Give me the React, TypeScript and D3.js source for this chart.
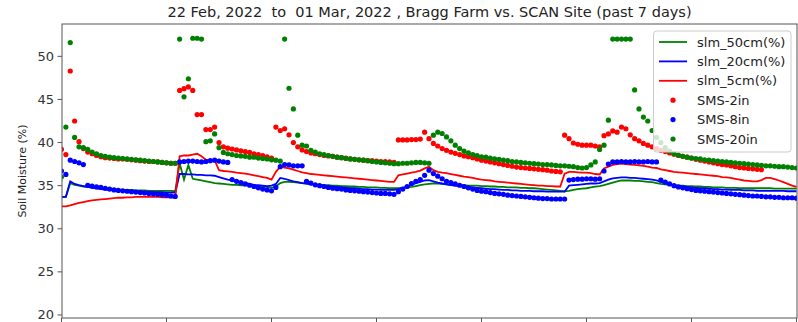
import * as d3 from "d3";

// hourly readings, index = hours since 22 Feb 00:00
const hourTicks = [0, 24, 48, 72, 96, 120, 144, 168];
const yTicks = [20, 25, 30, 35, 40, 45, 50];

// SCAN site lines
const slm50 = [
  33.7, 33.7, 35.3, 35.1, 35.0, 34.9, 34.85, 34.8, 34.75, 34.7, 34.65, 34.6,
  34.55, 34.55, 34.5, 34.5, 34.5, 34.45, 34.45, 34.45, 34.4, 34.4, 34.4, 34.4,
  34.4, 34.4, 34.35, 37.6, 35.7, 37.4, 35.8, 35.7, 35.6, 35.5, 35.4, 35.3,
  35.25, 35.2, 35.15, 35.1, 35.1, 35.05, 35.05, 35.0, 35.0, 34.95, 34.9, 34.85,
  34.75, 34.9, 35.3, 35.45, 35.45, 35.4, 35.35, 35.3, 35.25, 35.2, 35.15, 35.1,
  35.05, 35.05, 35.0, 35.0, 34.95, 34.95, 34.9, 34.9, 34.85, 34.85, 34.8, 34.8,
  34.8, 34.75, 34.75, 34.7, 34.7, 34.7, 34.75, 34.8, 34.85, 34.95, 35.05, 35.15,
  35.2, 35.25, 35.25, 35.2, 35.15, 35.1, 35.1, 35.05, 35.05, 35.0, 35.0, 35.0,
  34.95, 34.95, 34.9, 34.9, 34.85, 34.85, 34.8, 34.8, 34.8, 34.75, 34.75, 34.7,
  34.7, 34.65, 34.6, 34.55, 34.5, 34.45, 34.4, 34.35, 34.4, 34.5, 34.6, 34.65,
  34.7, 34.8, 34.9, 34.95, 35.05, 35.2, 35.35, 35.5, 35.6, 35.6, 35.6, 35.55,
  35.55, 35.5, 35.45, 35.4, 35.3, 35.2, 35.15, 35.1, 35.05, 35.0, 35.0, 34.95,
  34.95, 34.9, 34.9, 34.85, 34.85, 34.8, 34.8, 34.8, 34.75, 34.75, 34.75, 34.7,
  34.7, 34.7, 34.7, 34.7, 34.7, 34.7, 34.7, 34.65, 34.65, 34.65, 34.65, 34.65,
  34.65,
];
const slm20 = [
  33.7, 33.7, 35.5, 35.2, 35.05, 34.95, 34.85, 34.75, 34.7, 34.6, 34.55, 34.5,
  34.45, 34.45, 34.4, 34.4, 34.35, 34.35, 34.3, 34.3, 34.3, 34.25, 34.25, 34.25,
  34.2, 34.2, 34.2, 36.35, 36.35, 36.3, 36.3, 36.25, 36.25, 36.2, 36.2, 36.15,
  36.0, 35.85, 35.7, 35.6, 35.5, 35.4, 35.3, 35.2, 35.1, 35.05, 35.0, 34.95,
  35.0, 35.2, 35.9, 35.8, 35.65, 35.5, 35.4, 35.3, 35.25, 35.15, 35.1, 35.05,
  35.0, 34.95, 34.9, 34.85, 34.8, 34.75, 34.7, 34.7, 34.65, 34.6, 34.6, 34.55,
  34.55, 34.5, 34.5, 34.5, 34.5, 34.6, 34.75, 34.9, 35.1, 35.3, 35.45, 35.6,
  35.65, 35.5, 35.35, 35.25, 35.15, 35.05, 35.0, 34.95, 34.9, 34.85, 34.8, 34.75,
  34.7, 34.65, 34.6, 34.6, 34.55, 34.5, 34.5, 34.45, 34.45, 34.4, 34.4, 34.4,
  34.35, 34.35, 34.35, 34.3, 34.3, 34.3, 34.3, 34.3, 35.0, 35.05, 35.1, 35.15,
  35.2, 35.25, 35.25, 35.3, 35.5, 35.7, 35.85, 35.9, 35.95, 35.95, 35.9, 35.9,
  35.85, 35.8, 35.75, 35.7, 35.6, 35.45, 35.3, 35.15, 35.05, 34.95, 34.9, 34.85,
  34.8, 34.75, 34.7, 34.7, 34.65, 34.6, 34.6, 34.55, 34.55, 34.5, 34.5, 34.5,
  34.45, 34.45, 34.45, 34.4, 34.4, 34.4, 34.4, 34.4, 34.4, 34.4, 34.35, 34.35,
  34.35,
];
const slm5 = [
  32.6, 32.6, 32.7, 32.85, 33.0, 33.1, 33.2, 33.3, 33.35, 33.4, 33.45, 33.5,
  33.55, 33.6, 33.6, 33.65, 33.65, 33.7, 33.7, 33.7, 33.7, 33.7, 33.7, 33.65,
  33.65, 33.65, 33.6, 38.4, 38.5, 38.5, 38.6, 38.7, 38.4, 38.0, 38.0, 37.95,
  36.8, 36.7, 36.65, 36.6, 36.5, 36.45, 36.4, 36.3, 36.2, 36.1, 36.0, 35.9,
  35.7, 36.6, 37.2, 37.1, 37.0, 36.85, 36.7, 36.55, 36.45, 36.35, 36.3, 36.25,
  36.2, 36.15, 36.1, 36.05, 36.0, 35.95, 35.9, 35.85, 35.8, 35.75, 35.7, 35.65,
  35.6, 35.55, 35.5, 35.45, 35.45, 36.2, 36.3, 36.4, 36.5, 36.6, 36.75, 37.0,
  37.2, 36.8, 36.6, 36.5, 36.45, 36.35, 36.25, 36.15, 36.05, 36.0, 35.9, 35.8,
  35.7, 35.65, 35.6, 35.5, 35.45, 35.4, 35.35, 35.3, 35.25, 35.2, 35.15, 35.1,
  35.05, 35.0, 35.0, 34.95, 34.95, 34.9, 34.9, 36.4, 36.6, 36.6, 36.55, 36.5,
  36.5, 36.45, 36.35, 36.3, 37.0, 37.2, 37.4, 37.5, 37.55, 37.5, 37.45, 37.4,
  37.35, 37.3, 37.2, 37.1, 37.05, 36.9, 36.8, 36.7, 36.6, 36.55, 36.5, 36.45,
  36.4, 36.35, 36.3, 36.25, 36.2, 36.15, 36.1, 36.0, 35.95, 35.9, 35.8, 35.7,
  35.6, 35.55, 35.5, 35.5, 35.65, 35.9, 35.9, 35.75, 35.6, 35.4, 35.2, 35.0,
  34.85,
];

// Bragg Farm sensors
const sms2 = [
  39.2, 38.6, 48.3, 42.5, 40.1, 39.3, 38.9, 38.7, 38.5, 38.35, 38.25, 38.2,
  38.15, 38.1, 38.1, 38.05, 38.0, 37.95, 37.9, 37.85, 37.8, 37.8, 37.75, 37.7,
  37.65, 37.6, 37.6, 46.05, 46.25, 46.45, 46.05, 43.25, 43.25, 41.5, 41.5, 41.8,
  40.0, 39.5, 39.35, 39.25, 39.15, 39.05, 38.95, 38.85, 38.7, 38.6, 38.5, 38.35,
  38.2, 41.8, 41.4, 41.6, 40.9, 40.0, 39.5, 39.15, 38.95, 38.8, 38.7, 38.6,
  38.5, 38.45, 38.4, 38.3, 38.25, 38.2, 38.1, 38.05, 38.0, 37.95, 37.9, 37.9,
  37.85, 37.8, 37.8, 37.75, 37.7, 40.3, 40.3, 40.3, 40.35, 40.35, 40.4, 41.2,
  40.45, 39.9, 39.6, 39.3, 39.1, 38.9, 38.75, 38.6, 38.45, 38.35, 38.25, 38.1,
  37.95, 37.85, 37.75, 37.65, 37.55, 37.45, 37.35, 37.25, 37.15, 37.1, 37.05, 37.0,
  36.95, 36.9, 36.85, 36.8, 36.7, 36.65, 36.6, 40.85, 40.45, 39.95, 39.8, 39.7,
  39.7, 39.7, 39.6, 39.5, 40.8, 41.0, 41.35, 41.2, 41.8, 41.6, 40.9, 40.45,
  40.2, 39.9, 39.7, 39.5, 39.3, 39.1, 38.95, 38.8, 38.65, 38.5, 38.4, 38.3,
  38.2, 38.05, 37.95, 37.85, 37.75, 37.65, 37.55, 37.45, 37.4, 37.3, 37.2, 37.1,
  37.05, 37.0, 36.95, 36.9, 36.85, null, null, null, null, null, null, null,
  null,
];
const sms8 = [
  36.7, 36.3, 37.95, 37.8, 37.65, 37.45, 35.05, 34.95, 34.85, 34.8, 34.7, 34.6,
  34.5, 34.45, 34.4, 34.35, 34.3, 34.25, 34.2, 34.15, 34.1, 34.05, 34.0, 33.95,
  33.9, 33.8, 33.75, 37.75, 37.8, 37.85, 37.85, 37.8, 37.75, 37.8, 37.9, 37.95,
  37.85, 37.75, 37.7, 35.7, 35.5, 35.35, 35.2, 35.05, 34.9, 34.75, 34.6, 34.5,
  34.4, 34.8, 37.2, 37.45, 37.4, 37.3, 37.3, 37.3, 35.5, 35.3, 35.1, 35.0,
  34.9, 34.8, 34.7, 34.65, 34.6, 34.5, 34.45, 34.4, 34.35, 34.3, 34.25, 34.2,
  34.15, 34.1, 34.1, 34.05, 34.0, 34.3, 34.6, 34.9, 35.25, 35.5, 35.7, 36.2,
  36.8, 36.4, 36.1, 35.8, 35.5, 35.35, 35.2, 35.05, 34.9, 34.75, 34.6, 34.45,
  34.35, 34.3, 34.2, 34.1, 34.05, 34.0, 33.9, 33.85, 33.8, 33.75, 33.7, 33.65,
  33.6, 33.55, 33.5, 33.5, 33.45, 33.45, 33.45, 33.45, 35.65, 35.7, 35.75, 35.75,
  35.8, 35.8, 35.75, 35.8, 36.7, 37.5, 37.75, 37.75, 37.8, 37.75, 37.75, 37.8,
  37.75, 37.75, 37.8, 37.75, 37.75, 35.65, 35.4, 35.2, 35.0, 34.85, 34.75, 34.65,
  34.55, 34.45, 34.4, 34.35, 34.3, 34.25, 34.2, 34.15, 34.1, 34.05, 34.0, 33.95,
  33.9, 33.85, 33.8, 33.8, 33.75, 33.7, 33.7, 33.65, 33.65, 33.6, 33.6, 33.6,
  33.55,
];
const sms20 = [
  36.0, 41.8, 51.6, 40.6, 39.5, 39.4, 39.2, 38.9, 38.7, 38.5, 38.4, 38.3,
  38.25, 38.2, 38.15, 38.1, 38.05, 38.0, 37.95, 37.9, 37.85, 37.8, 37.75, 37.7,
  37.65, 37.6, 37.6, 52.0, 45.3, 47.4, 52.1, 52.1, 52.0, 40.1, 40.2, 41.0,
  39.4, 38.85, 38.7, 38.6, 38.5, 38.45, 38.4, 38.3, 38.3, 38.2, 38.15, 38.1,
  38.0, 37.95, 37.85, 52.0, 46.3, 43.9, 40.85, 39.7, 39.6, 39.1, 38.9, 38.7,
  38.6, 38.5, 38.4, 38.3, 38.25, 38.15, 38.1, 38.05, 38.0, 37.95, 37.9, 37.8,
  37.75, 37.7, 37.65, 37.6, 37.55, 37.55, 37.6, 37.6, 37.65, 37.7, 37.7, 37.65,
  37.6, 40.85, 41.2, 41.05, 40.65, 40.2, 39.7, 39.3, 39.0, 38.8, 38.6, 38.5,
  38.35, 38.3, 38.2, 38.1, 38.05, 37.95, 37.9, 37.8, 37.75, 37.7, 37.65, 37.6,
  37.55, 37.5, 37.45, 37.45, 37.4, 37.35, 37.3, 37.3, 37.25, 37.2, 37.1, 37.05,
  37.1, 37.4, 37.75, 39.2, 39.7, 42.6, 52.0, 52.0, 52.0, 52.0, 52.0, 46.1,
  43.9, 42.95, 42.5, 41.4, 40.6, 40.0, 39.4, 39.0, 38.7, 38.55, 38.4, 38.3,
  38.2, 38.15, 38.1, 38.0, 37.95, 37.9, 37.85, 37.8, 37.75, 37.7, 37.65, 37.6,
  37.55, 37.5, 37.45, 37.4, 37.35, 37.3, 37.3, 37.25, 37.2, 37.2, 37.15, 37.1,
  37.05,
];

const lineSeries = [
  { label: "slm_50cm(%)", values: slm50, color: "#008000" },
  { label: "slm_20cm(%)", values: slm20, color: "#0000ff" },
  { label: "slm_5cm(%)", values: slm5, color: "#ff0000" },
];
const dotSeries = [
  { label: "SMS-2in", values: sms2, color: "#ff0000" },
  { label: "SMS-8in", values: sms8, color: "#0000ff" },
  { label: "SMS-20in", values: sms20, color: "#008000" },
];

const W = 798;
const H = 322;
const left = 62;
const right = 797;
const top = 24;
const bottom = 318;
const font = "DejaVu Sans, sans-serif";
const DOT_R = 2.6;

export default function App() {
  const x = d3.scaleLinear().domain([0, 168]).range([left - 0.5, right - 0.5]);
  const y = d3.scaleLinear().domain([19.65, 53.75]).range([bottom, top]);

  const line = d3
    .line<number | null>()
    .defined((v) => v != null)
    .x((_, i) => x(i))
    .y((v) => y(v as number));

  const legendRows = [...lineSeries, ...dotSeries];

  return (
    <svg
      width={W}
      height={H}
      style={{ position: "absolute", left: 0, top: 0, background: "#fff" }}
      fontFamily={font}
    >
      <defs>
        <clipPath id="plot">
          <rect x={left} y={top} width={right - left} height={bottom - top} />
        </clipPath>
      </defs>

      <text
        x={(left + right) / 2}
        y={17}
        textAnchor="middle"
        fontSize={14.5}
        fill="#222"
        style={{ whiteSpace: "pre" }}
      >
        {"22 Feb, 2022  to  01 Mar, 2022 , Bragg Farm vs. SCAN Site (past 7 days)"}
      </text>

      <g clipPath="url(#plot)">
        {lineSeries.map((s) => (
          <path
            key={s.label}
            d={line(s.values) ?? ""}
            fill="none"
            stroke={s.color}
            strokeWidth={1.8}
          />
        ))}
        {dotSeries.map((s) => (
          <g key={s.label} fill={s.color}>
            {s.values.map((v, i) =>
              v == null ? null : <circle key={i} cx={x(i)} cy={y(v)} r={DOT_R} />
            )}
          </g>
        ))}
      </g>

      <rect
        x={left}
        y={top}
        width={right - left}
        height={bottom - top}
        fill="none"
        stroke="#555"
        strokeWidth={1}
      />

      {yTicks.map((t) => (
        <g key={t}>
          <line x1={left - 4.5} x2={left} y1={y(t)} y2={y(t)} stroke="#555" />
          <text
            x={left - 8}
            y={y(t) + 4.5}
            textAnchor="end"
            fontSize={13}
            fill="#333"
          >
            {t}
          </text>
        </g>
      ))}
      {hourTicks.map((t) => (
        <line key={t} x1={x(t)} x2={x(t)} y1={bottom} y2={bottom + 4.5} stroke="#555" />
      ))}

      <text
        transform={`translate(26,${(top + bottom) / 2}) rotate(-90)`}
        textAnchor="middle"
        fontSize={11}
        fill="#222"
      >
        Soil Moisture (%)
      </text>

      <g>
        <rect
          x={653.5}
          y={31}
          width={137.5}
          height={121}
          rx={3}
          fill="#fff"
          fillOpacity={0.8}
          stroke="#ccc"
        />
        {legendRows.map((s, i) => {
          const cy = 42 + i * 19.4;
          const isLine = i < lineSeries.length;
          return (
            <g key={s.label}>
              {isLine ? (
                <line x1={659} x2={687} y1={cy} y2={cy} stroke={s.color} strokeWidth={1.8} />
              ) : (
                <circle cx={673} cy={cy} r={DOT_R} fill={s.color} />
              )}
              <text x={697} y={cy + 4.5} fontSize={13} fill="#222">
                {s.label}
              </text>
            </g>
          );
        })}
      </g>
    </svg>
  );
}
